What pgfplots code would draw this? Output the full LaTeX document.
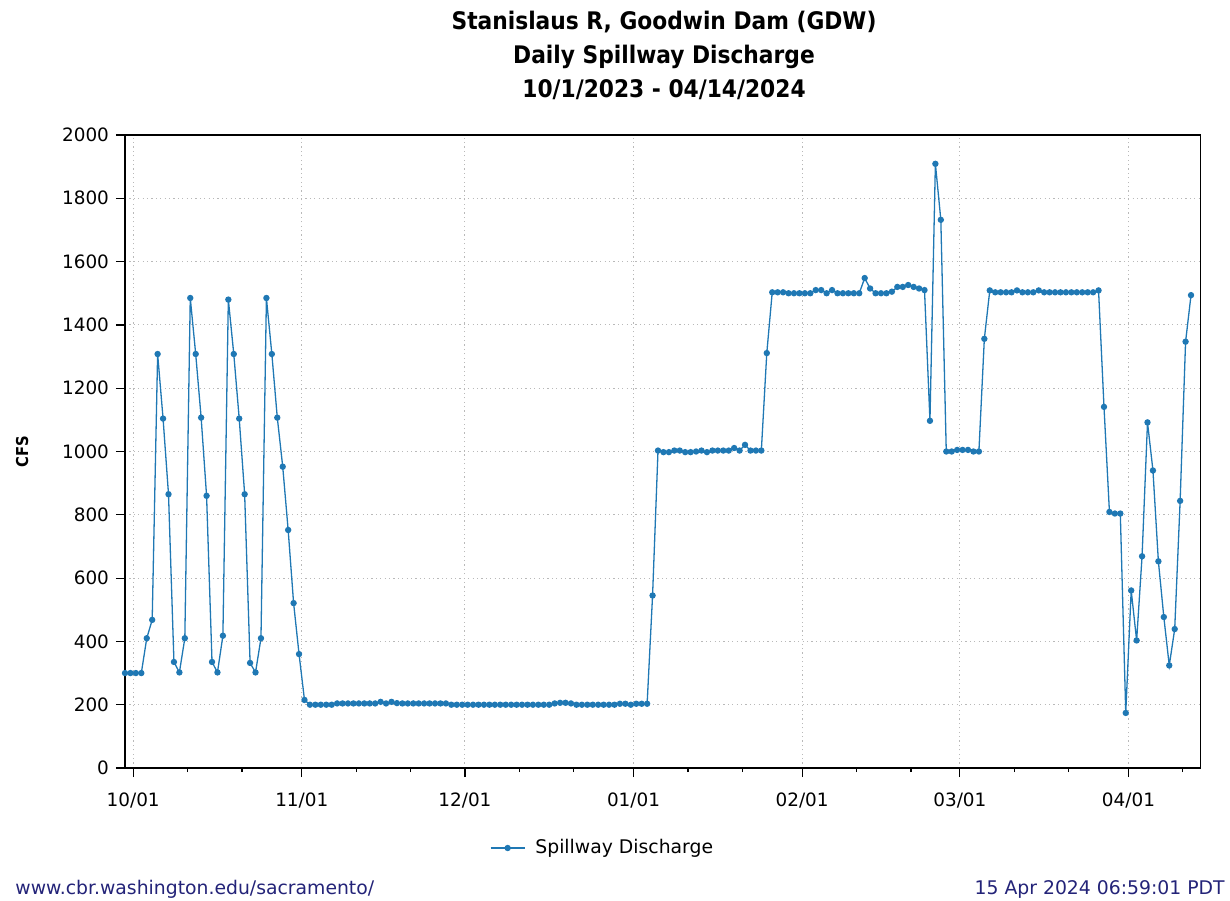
\documentclass[border=0pt]{standalone}
\usepackage{fontspec}
\setmainfont{DejaVu Sans}
\IfFontExistsTF{DejaVu Sans Condensed}
  {\newfontfamily\titlefont{DejaVu Sans Condensed}}
  {\newfontfamily\titlefont{DejaVu Sans}[FakeStretch=0.88]}
\usepackage{pgfplots}
\pgfplotsset{compat=1.18}
\usepackage{pgfplotstable}
\definecolor{lineblue}{RGB}{31,120,180}
\definecolor{footblue}{RGB}{35,35,120}
\definecolor{gridgray}{RGB}{185,185,185}

\pgfplotstableread{
i cfs
0 300
1 300
2 300
3 300
4 410
5 468
6 1308
7 1104
8 865
9 335
10 302
11 410
12 1485
13 1308
14 1107
15 860
16 335
17 302
18 418
19 1480
20 1308
21 1104
22 865
23 332
24 302
25 410
26 1485
27 1308
28 1107
29 952
30 752
31 521
32 360
33 215
34 200
35 200
36 200
37 200
38 200
39 204
40 204
41 204
42 204
43 204
44 204
45 204
46 204
47 209
48 204
49 209
50 205
51 204
52 204
53 204
54 204
55 204
56 204
57 204
58 204
59 204
60 200
61 200
62 200
63 200
64 200
65 200
66 200
67 200
68 200
69 200
70 200
71 200
72 200
73 200
74 200
75 200
76 200
77 200
78 200
79 204
80 206
81 206
82 204
83 200
84 200
85 200
86 200
87 200
88 200
89 200
90 200
91 203
92 203
93 200
94 203
95 203
96 203
97 545
98 1003
99 998
100 998
101 1003
102 1003
103 998
104 998
105 1000
106 1003
107 998
108 1003
109 1003
110 1003
111 1003
112 1011
113 1003
114 1021
115 1003
116 1003
117 1003
118 1311
119 1503
120 1503
121 1503
122 1500
123 1500
124 1500
125 1500
126 1500
127 1510
128 1510
129 1500
130 1510
131 1500
132 1500
133 1500
134 1500
135 1500
136 1548
137 1515
138 1500
139 1500
140 1500
141 1505
142 1520
143 1520
144 1526
145 1520
146 1515
147 1510
148 1097
149 1909
150 1732
151 1000
152 1000
153 1005
154 1005
155 1005
156 1000
157 1000
158 1356
159 1509
160 1503
161 1503
162 1503
163 1503
164 1509
165 1503
166 1503
167 1503
168 1509
169 1503
170 1503
171 1503
172 1503
173 1503
174 1503
175 1503
176 1503
177 1503
178 1503
179 1509
180 1141
181 809
182 804
183 804
184 174
185 561
186 403
187 669
188 1092
189 940
190 653
191 477
192 324
193 439
194 844
195 1347
196 1494
}\spill

\begin{document}
\begin{tikzpicture}
\useasboundingbox (-62.5pt,-66pt) rectangle (552.5pt,384pt);
\begin{axis}[
  at={(0pt,0pt)}, anchor=south west,
  scale only axis, width=537.9pt, height=316.5pt,
  xmin=0, xmax=197.8, ymin=0, ymax=2000,
  xtick={1.5,32.5,62.5,93.5,124.5,153.5,184.5},
  xticklabels={10/01,11/01,12/01,01/01,02/01,03/01,04/01},
  minor xtick={11.5,21.5,42.5,52.5,72.5,82.5,103.5,113.5,134.5,144.5,163.5,173.5,194.5},
  ytick={0,200,...,2000},
  xtick pos=lower, ytick pos=left, tick align=outside,
  major tick length=4.5pt, minor tick length=2pt,
  xmajorgrids, ymajorgrids,
  grid style={gridgray, dash pattern=on 0.6pt off 1.6pt, line width=0.5pt},
  axis line style={black, line width=0.6pt},
  every tick/.style={black, line width=0.6pt},
  ticklabel style={font=\fontsize{9.2}{11}\selectfont},
  xticklabel style={yshift=-4.5pt},
  /pgf/number format/assume math mode=true,
  /pgf/number format/1000 sep={},
  ylabel={CFS},
  ylabel style={font=\titlefont\fontsize{8.2}{10}\selectfont\bfseries, at={(axis description cs:-0.0957,0.5)}, anchor=center},
  legend style={at={(axis description cs:0.4448,-0.1264)}, anchor=center, draw=none, font=\fontsize{9.4}{11}\selectfont, legend cell align=left},
]
\addplot[lineblue, line width=0.65pt, mark=*, mark size=1.25pt, mark options={lineblue, solid}] table[x=i, y=cfs]{\spill};
\addlegendentry{\hspace{3pt}Spillway Discharge}
\end{axis}
\node[anchor=base, font=\titlefont\fontsize{12.1}{14}\selectfont\bfseries] at (269.5pt,369.35pt) {Stanislaus R, Goodwin Dam (GDW)};
\node[anchor=base, font=\titlefont\fontsize{12.1}{14}\selectfont\bfseries] at (269.5pt,352.35pt) {Daily Spillway Discharge};
\node[anchor=base, font=\titlefont\fontsize{12.1}{14}\selectfont\bfseries] at (269.5pt,335.35pt) {10/1/2023 - 04/14/2024};
\node[anchor=base west, inner sep=0pt, text=footblue, font=\fontsize{9.4}{11}\selectfont] at (-55pt,-63pt) {www.cbr.washington.edu/sacramento/};
\node[anchor=base east, inner sep=0pt, text=footblue, font=\fontsize{9.4}{11}\selectfont] at (550pt,-63pt) {15 Apr 2024 06:59:01 PDT};
\end{tikzpicture}
\end{document}
